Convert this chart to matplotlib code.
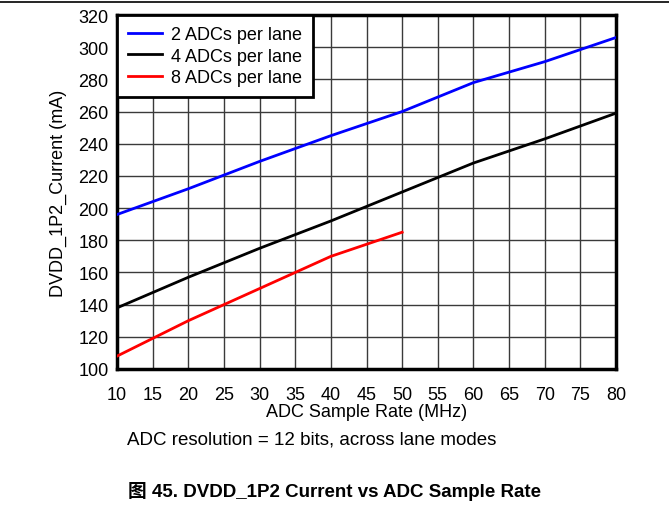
import matplotlib
matplotlib.use("Agg")
import matplotlib.pyplot as plt
from matplotlib.lines import Line2D

plt.rcParams['font.family'] = ['Liberation Sans', 'Noto Sans CJK SC', 'DejaVu Sans']

x_2 = [10, 20, 30, 40, 50, 60, 70, 80]
y_2 = [196, 212, 229, 245, 260, 278, 291, 306]
x_4 = [10, 20, 30, 40, 50, 60, 70, 80]
y_4 = [138, 157, 175, 192, 210, 228, 243, 259]
x_8 = [10, 20, 30, 40, 50]
y_8 = [108, 130, 150, 170, 185]
labels = ["2 ADCs per lane", "4 ADCs per lane", "8 ADCs per lane"]
xticks = list(range(10, 81, 5))
yticks = list(range(100, 321, 20))

fig = plt.figure(figsize=(6.69, 5.06), dpi=100)
ax = fig.add_axes([117/669, 1 - 370/506, (616-117)/669, (370-16)/506])

ax.plot(x_2, y_2, color='#0000ff', lw=2, label=labels[0], zorder=3)
ax.plot(x_4, y_4, color='black', lw=2, label=labels[1], zorder=3)
ax.plot(x_8, y_8, color='#ff0000', lw=2, label=labels[2], zorder=3)

ax.set_xlim(10, 80)
ax.set_ylim(100, 320)
ax.set_xticks(xticks)
ax.set_yticks(yticks)
ax.grid(True, color='#3a3a3a', lw=1)
ax.set_axisbelow(True)
ax.tick_params(axis='y', length=0, labelsize=13, pad=6)
ax.tick_params(axis='x', length=0, labelsize=13, pad=12)
for s in ax.spines.values():
    s.set_linewidth(2.5)
ax.set_xlabel("ADC Sample Rate (MHz)", fontsize=13, labelpad=0)
ax.set_ylabel("DVDD_1P2_Current (mA)", fontsize=13, labelpad=8)

leg = ax.legend(loc='upper left', fontsize=13, frameon=True, fancybox=False,
                borderaxespad=0, handlelength=1.9, labelspacing=0.26,
                borderpad=0.6, handletextpad=0.5)
leg.get_frame().set_edgecolor('black')
leg.get_frame().set_linewidth(2)
leg.get_frame().set_alpha(1)

fig.add_artist(Line2D([0, 1], [1 - 2.5/506, 1 - 2.5/506], color='black', lw=1.2))
fig.text(127/669, 1 - 440/506, "ADC resolution = 12 bits, across lane modes",
         fontsize=13.5, va='center', ha='left')
fig.text(335/669, 1 - 492/506, "图 45. DVDD_1P2 Current vs ADC Sample Rate",
         fontsize=13.5, fontweight='bold', va='center', ha='center')

fig.savefig("out.png", dpi=100)
